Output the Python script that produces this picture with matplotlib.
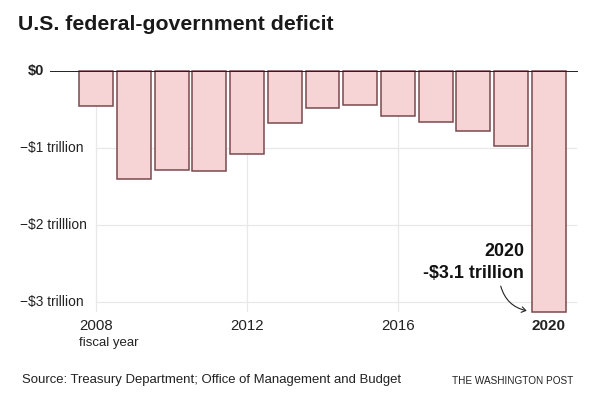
import matplotlib
matplotlib.use("Agg")
import matplotlib.pyplot as plt
from matplotlib import font_manager as fm

years = list(range(2008, 2021))
deficit = [-0.46, -1.415, -1.295, -1.305, -1.085, -0.685, -0.49, -0.445, -0.59, -0.67, -0.785, -0.985, -3.13]
y_ticks = [-1, -2, -3]
y_labels = ["−$1 trillion", "−$2 trilllion", "−$3 trillion"]
x_ticks = [2008, 2012, 2016]

W, H = 600, 410
plt.rcParams['font.family'] = ['Liberation Sans', 'DejaVu Sans']
fig = plt.figure(figsize=(W / 100, H / 100), dpi=100, facecolor='white')
L, R, T, B = 50, 578, 71.5, 312.5
ax = fig.add_axes([L / W, 1 - B / H, (R - L) / W, (B - T) / H])
ax.set_xlim(2006.77, 2020.78)
ax.set_ylim((T - B) / 77.0, 0)
for s in ax.spines.values():
    s.set_visible(False)
ax.tick_params(length=0, labelbottom=False, labelleft=False)
ax.patch.set_alpha(0)

gc = '#e8e8e8'
for v in y_ticks:
    ax.plot([2008, 2020.73], [v, v], color=gc, lw=0.9, zorder=1)
for x in x_ticks:
    ax.plot([x, x], [0, -3.13], color=gc, lw=0.9, zorder=1)

ax.bar(years, deficit, width=0.9, align='center', facecolor='#f6d3d4',
       edgecolor='#7a4a4e', linewidth=1.1, zorder=2, clip_on=False)
ax.plot([2006.77, 2020.78], [0, 0], color='#222222', lw=1.4, zorder=3, solid_capstyle='butt')

def px(x, y, s, **k):
    fig.text(x / W, 1 - y / H, s, **k)

dark = '#222222'
px(18, 25, "U.S. federal-government deficit", fontsize=15.3, fontweight='bold', color='#1a1a1a', va='center', ha='left')
px(44, 71, "$0", fontsize=10.5, fontweight='bold', color=dark, ha='right', va='center')
for v, lab in zip(y_ticks, y_labels):
    px(20.5, 71.5 + 77 * -v - 0.5, lab, fontsize=9.9, color=dark, ha='left', va='center')

px(79, 326, "2008", fontsize=10.8, color=dark, ha='left', va='center')
px(79, 343, "fiscal year", fontsize=9.5, color=dark, ha='left', va='center')
px(247, 326, "2012", fontsize=10.8, color=dark, ha='center', va='center')
px(398, 326, "2016", fontsize=10.8, color=dark, ha='center', va='center')
px(548, 326, "2020", fontsize=11, fontweight='bold', color=dark, ha='center', va='center')

px(524, 252, "2020", fontsize=12.9, fontweight='bold', color='#111111', ha='right', va='center')
px(524, 274, "-$3.1 trillion", fontsize=12.9, fontweight='bold', color='#111111', ha='right', va='center')

ax.annotate('', xy=(2019.42, -3.12), xytext=(2018.73, -2.80), annotation_clip=False,
            arrowprops=dict(arrowstyle='->,head_length=0.3,head_width=0.2', color=dark, lw=0.8,
                            connectionstyle='arc3,rad=0.3', shrinkA=0, shrinkB=0))

px(22, 380, "Source: Treasury Department; Office of Management and Budget", fontsize=9.43, color=dark, ha='left', va='center')
names = {f.name for f in fm.fontManager.ttflist}
if 'Liberation Sans Narrow' in names:
    px(573, 381, "THE WASHINGTON POST", fontsize=9.0, family=['Liberation Sans Narrow'], color=dark, ha='right', va='center')
else:
    px(573, 381, "THE WASHINGTON POST", fontsize=7.2, color=dark, ha='right', va='center')

fig.savefig('out.png', dpi=100)
